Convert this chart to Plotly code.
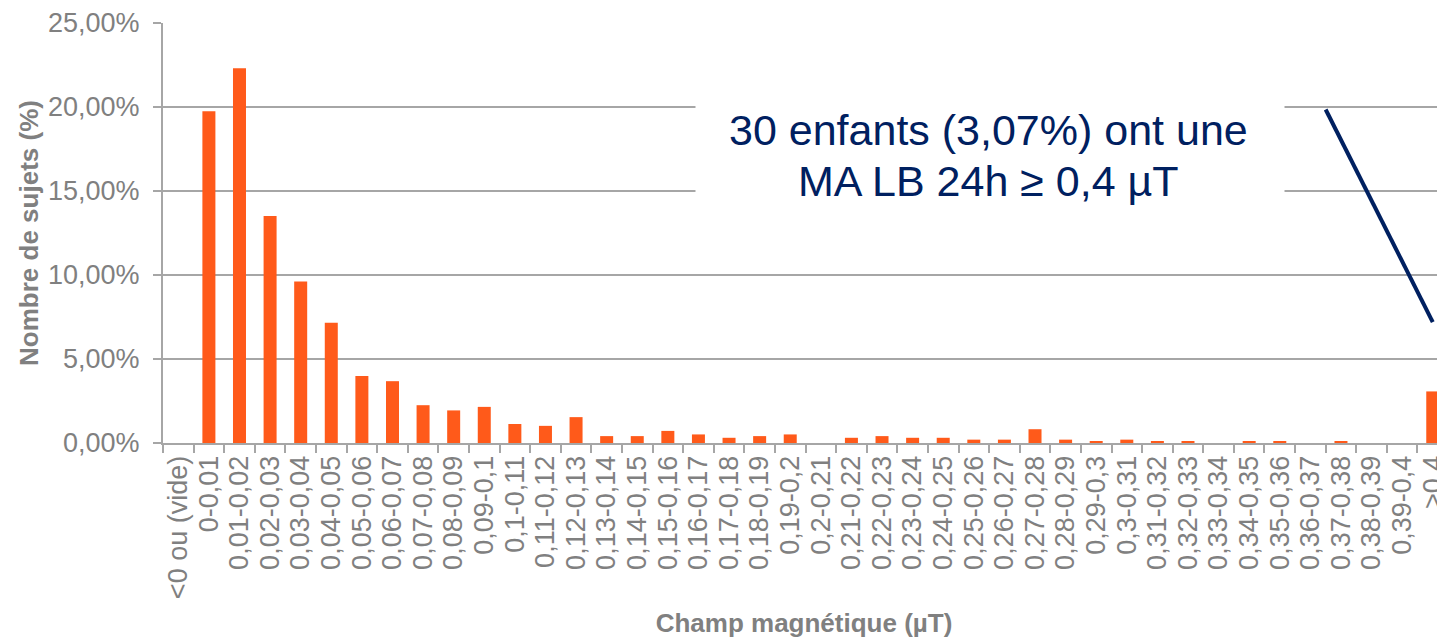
import plotly.graph_objects as go

categories = [
    "<0 ou (vide)", "0-0,01", "0,01-0,02", "0,02-0,03", "0,03-0,04", "0,04-0,05",
    "0,05-0,06", "0,06-0,07", "0,07-0,08", "0,08-0,09", "0,09-0,1", "0,1-0,11",
    "0,11-0,12", "0,12-0,13", "0,13-0,14", "0,14-0,15", "0,15-0,16", "0,16-0,17",
    "0,17-0,18", "0,18-0,19", "0,19-0,2", "0,2-0,21", "0,21-0,22", "0,22-0,23",
    "0,23-0,24", "0,24-0,25", "0,25-0,26", "0,26-0,27", "0,27-0,28", "0,28-0,29",
    "0,29-0,3", "0,3-0,31", "0,31-0,32", "0,32-0,33", "0,33-0,34", "0,34-0,35",
    "0,35-0,36", "0,36-0,37", "0,37-0,38", "0,38-0,39", "0,39-0,4", ">0,4",
]

pct_subjects = [
    0.00, 19.75, 22.31, 13.51, 9.62, 7.16,
    3.99, 3.68, 2.25, 1.94, 2.15, 1.13,
    1.02, 1.54, 0.41, 0.41, 0.72, 0.51,
    0.31, 0.41, 0.51, 0.00, 0.31, 0.41,
    0.31, 0.31, 0.20, 0.20, 0.82, 0.20,
    0.10, 0.20, 0.10, 0.10, 0.00, 0.10,
    0.10, 0.00, 0.10, 0.00, 0.00, 3.07,
]

y_ticks = [0, 5, 10, 15, 20, 25]
y_tick_labels = ["0,00%", "5,00%", "10,00%", "15,00%", "20,00%", "25,00%"]

annotation_line1 = "30 enfants (3,07%) ont une"
annotation_line2 = "MA LB 24h ≥ 0,4 µT"

GRAY = "#808080"
AXIS = "#A6A6A6"
NAVY = "#002060"
BAR = "#FF5A1A"
FONT = "Liberation Sans, Arial, sans-serif"

# page body has an 8px margin: plot area should sit at x 163..1445, y 23..443
OFF = 8
PL, PT, PR, PB = 163, 23, 1445, 443
W, H = 1445 - OFF, 640 - OFF

fig = go.Figure(
    go.Bar(
        x=categories,
        y=pct_subjects,
        marker=dict(color=BAR, line=dict(width=0)),
        hoverinfo="x+y",
    )
)

fig.update_layout(
    width=W,
    height=H,
    margin=dict(l=PL - OFF, r=OFF + W - PR, t=PT - OFF, b=OFF + H - PB),
    paper_bgcolor="white",
    plot_bgcolor="white",
    separators=", ",
    bargap=0.575,
    showlegend=False,
    font=dict(family=FONT, color=GRAY),
)

fig.update_xaxes(
    type="category",
    range=[-0.5, 41.4],
    tickmode="array",
    tickvals=categories,
    ticktext=categories,
    tickangle=-90,
    tickson="boundaries",
    ticks="outside",
    ticklen=8,
    tickwidth=1.5,
    tickcolor=AXIS,
    showline=True,
    linecolor=AXIS,
    linewidth=2,
    showgrid=False,
    tickfont=dict(family=FONT, size=27, color=GRAY),
    title=dict(
        text="<b>Champ magnétique (µT)</b>",
        font=dict(family=FONT, size=26, color=GRAY),
        standoff=16,
    ),
    automargin=False,
)

fig.update_yaxes(
    range=[0, 25],
    tickvals=y_ticks,
    ticktext=y_tick_labels,
    ticks="outside",
    ticklen=8,
    tickwidth=1.5,
    tickcolor=AXIS,
    showline=True,
    linecolor=AXIS,
    linewidth=2,
    showgrid=True,
    gridcolor=AXIS,
    gridwidth=1.5,
    zeroline=False,
    tickfont=dict(family=FONT, size=27, color=GRAY),
    ticklabelstandoff=8,
    title=dict(
        text="<b>Nombre de sujets (%)</b>",
        font=dict(family=FONT, size=26, color=GRAY),
        standoff=2,
    ),
    automargin=False,
)

pw, ph = PR - PL, PB - PT


def px(xp):
    return (xp - PL) / pw


def py(yp):
    return (PB - yp) / ph


# white box hiding the gridlines behind the text
fig.add_annotation(
    xref="paper", yref="paper",
    x=px(990), y=py(155),
    xanchor="center", yanchor="middle",
    text=" ",
    showarrow=False,
    bgcolor="white",
    width=586,
    height=118,
)
fig.add_annotation(
    xref="paper", yref="paper",
    x=px(988), y=py(130),
    xanchor="center", yanchor="middle",
    text=annotation_line1,
    showarrow=False,
    font=dict(family=FONT, size=43, color=NAVY),
)
fig.add_annotation(
    xref="paper", yref="paper",
    x=px(988), y=py(181),
    xanchor="center", yanchor="middle",
    text=annotation_line2,
    showarrow=False,
    font=dict(family=FONT, size=43, color=NAVY),
)

fig.add_shape(
    type="line",
    xref="x", yref="y",
    x0=37.5, y0=19.85, x1=41.0, y1=7.2,
    line=dict(color=NAVY, width=4),
)

fig.write_html("out.html")
